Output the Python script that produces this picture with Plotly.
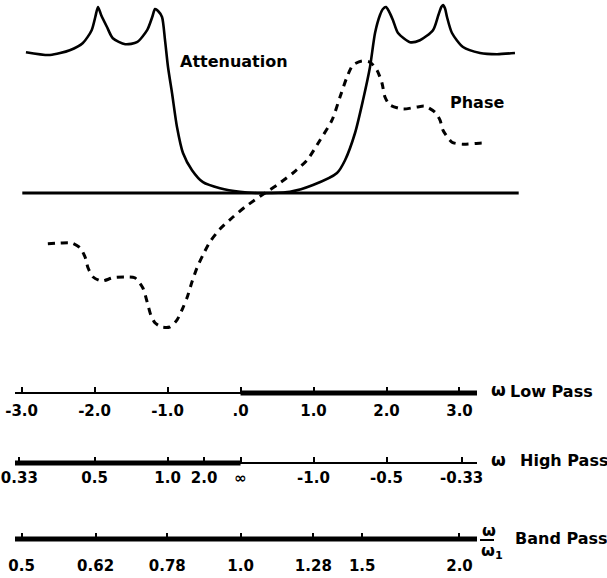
import plotly.graph_objects as go

# ---------------- data ----------------
# Top chart: x in low-pass-normalised frequency units, y in arbitrary level units
atten_x = [-3.35, -3.02, -2.75, -2.57, -2.45, -2.40, -2.363, -2.32, -2.24, -2.16, -1.99, -1.83, -1.69,
           -1.62, -1.582, -1.54, -1.486, -1.445, -1.404, -1.349, -1.281, -1.199, -1.075, -0.925,
           -0.692, -0.418, -0.185, 0.0, 0.267, 0.582, 0.911, 1.021, 1.158, 1.267, 1.363, 1.432,
           1.50, 1.54, 1.582, 1.62, 1.678, 1.747, 1.911, 2.048, 2.226, 2.30, 2.34, 2.363, 2.39,
           2.418, 2.486, 2.637, 2.870, 3.103, 3.349]
atten_y = [3.52, 3.45, 3.57, 3.75, 4.07, 4.40, 4.65, 4.45, 4.15, 3.87, 3.72, 3.77, 4.07,
           4.40, 4.60, 4.55, 4.40, 3.82, 3.15, 2.50, 1.65, 1.00, 0.57, 0.27,
           0.12, 0.03, 0.0, 0.0, 0.03, 0.20, 0.50, 0.82, 1.50, 2.32, 3.15, 4.00,
           4.45, 4.60, 4.65, 4.55, 4.32, 4.00, 3.77, 3.82, 4.07, 4.45, 4.65, 4.70, 4.62,
           4.40, 4.00, 3.65, 3.50, 3.47, 3.50]

phase_x = [-3.05, -2.88, -2.72, -2.61, -2.54, -2.50, -2.43, -2.31, -2.16, -1.99, -1.86, -1.75,
           -1.69, -1.64, -1.58, -1.49, -1.38, -1.28, -1.20, -1.14, -1.075, -1.007, -0.925,
           -0.829, -0.692, -0.514, -0.349, -0.075, 0.089, 0.308, 0.50, 0.678, 0.842, 0.952,
           1.048, 1.130, 1.253, 1.363, 1.459, 1.527, 1.568, 1.637, 1.815, 2.007, 2.116, 2.253,
           2.322, 2.363, 2.486, 2.637, 2.897, 2.966]
phase_y = [-1.27, -1.25, -1.25, -1.37, -1.60, -1.87, -2.10, -2.20, -2.12, -2.10, -2.12, -2.37,
           -2.72, -3.05, -3.25, -3.35, -3.35, -3.17, -2.87, -2.60, -2.22, -1.87, -1.55,
           -1.22, -0.90, -0.60, -0.35, 0.0, 0.20, 0.50, 0.82, 1.32, 1.82, 2.40,
           2.90, 3.20, 3.30, 3.27, 3.07, 2.75, 2.40, 2.20, 2.10, 2.15, 2.17, 2.02,
           1.82, 1.57, 1.27, 1.22, 1.25, 1.25]

baseline_x = [-3.4, 3.4]
baseline_y = [0, 0]

# Frequency scales (all drawn against the low-pass scale)
lp_values = [-3.0, -2.0, -1.0, 0.0, 1.0, 2.0, 3.0]
lp_labels = ["-3.0", "-2.0", "-1.0", ".0", "1.0", "2.0", "3.0"]
hp_values = [0.33, 0.5, 1.0, 2.0, float("inf"), -1.0, -0.5, -0.33]
hp_labels = ["0.33", "0.5", "1.0", "2.0", "∞", "-1.0", "-0.5", "-0.33"]
bp_values = [0.5, 0.62, 0.78, 1.0, 1.28, 1.5, 2.0]
bp_labels = ["0.5", "0.62", "0.78", "1.0", "1.28", "1.5", "2.0"]

scale_range = [-3.09, 3.24]
lp_pass = [0.0, 3.24]
hp_pass = [-3.09, 0.0]
bp_pass = [-3.09, 3.24]

# ---------------- mapping of scales ----------------
hp_pos = [0.0 if v == float("inf") else -1.0 / v for v in hp_values]
bp_pos = [2.0 * (r - 1.0 / r) for r in bp_values]

W, H = 607, 578
FONT = "DejaVu Sans"

fig = go.Figure()

# top chart
fig.add_trace(go.Scatter(x=baseline_x, y=baseline_y, mode="lines",
                         line=dict(color="black", width=3), xaxis="x", yaxis="y",
                         hoverinfo="skip"))
fig.add_trace(go.Scatter(x=atten_x, y=atten_y, mode="lines",
                         line=dict(color="black", width=2.6, shape="spline", smoothing=0.7),
                         xaxis="x", yaxis="y"))
fig.add_trace(go.Scatter(x=phase_x, y=phase_y, mode="lines",
                         line=dict(color="black", width=3, shape="spline", smoothing=0.7,
                                   dash="7px,6px"),
                         xaxis="x", yaxis="y"))

# scales: thick pass-band segments
for pas, ax in [(lp_pass, "2"), (hp_pass, "3"), (bp_pass, "4")]:
    fig.add_trace(go.Scatter(x=pas, y=[0, 0], mode="lines",
                             line=dict(color="black", width=5),
                             xaxis="x" + ax, yaxis="y" + ax, hoverinfo="skip"))

def pyc(py):
    return 1 - py / H

line_py = {"2": 393, "3": 463, "4": 539}
tick_sets = {"2": (lp_values, lp_labels), "3": (hp_pos, hp_labels), "4": (bp_pos, bp_labels)}
standoff = {"2": 4, "3": 1, "4": 13}

layout = dict(
    width=W, height=H,
    margin=dict(l=0, r=0, t=0, b=0, autoexpand=False),
    paper_bgcolor="white", plot_bgcolor="rgba(0,0,0,0)",
    showlegend=False,
    xaxis=dict(domain=[0, 1], range=[(0 - 270.5) / 73, (W - 270.5) / 73], visible=False),
    yaxis=dict(domain=[1 - 345 / H, 1], range=[(193 - 345) / 40, 193 / 40], visible=False),
)

for ax in ["2", "3", "4"]:
    c = pyc(line_py[ax])
    vals, labs = tick_sets[ax]
    layout["xaxis" + ax] = dict(
        domain=[15 / W, 477 / W], range=scale_range, anchor="free", position=c,
        showline=True, linecolor="black", linewidth=2, showgrid=False, zeroline=False,
        ticks="inside", ticklen=5, tickwidth=2, tickcolor="black", automargin=False,
        tickvals=vals, ticktext=labs, ticklabelstandoff=standoff[ax],
        tickfont=dict(family=FONT, size=15, color="black", weight="bold"),
    )
    layout["yaxis" + ax] = dict(domain=[c - 0.01, c + 0.01], range=[-1, 1], visible=False)

fig.update_layout(**layout)

def note(text, px, py, size=16, xanchor="left"):
    fig.add_annotation(text=text, x=px / W, y=pyc(py), xref="paper", yref="paper",
                       xanchor=xanchor, yanchor="middle", showarrow=False,
                       font=dict(family=FONT, size=size, color="black", weight="bold"))

note("Attenuation", 178, 62)
note("Phase", 448, 102)
note("ω", 489, 390, size=17)
note("Low Pass", 508, 391)
note("ω", 489, 460, size=17)
note("High Pass", 518, 460)
note("ω", 480, 530, size=16)
note("ω<sub>1</sub>", 479, 551, size=16)
note("Band Pass", 513, 538)
fig.add_shape(type="line", xref="paper", yref="paper", x0=480 / W, x1=494 / W,
              y0=pyc(540), y1=pyc(540), line=dict(color="black", width=2))

fig.write_html("out.html", config={"displayModeBar": False},
               post_script="document.body.style.margin='0';document.body.style.padding='0';")
